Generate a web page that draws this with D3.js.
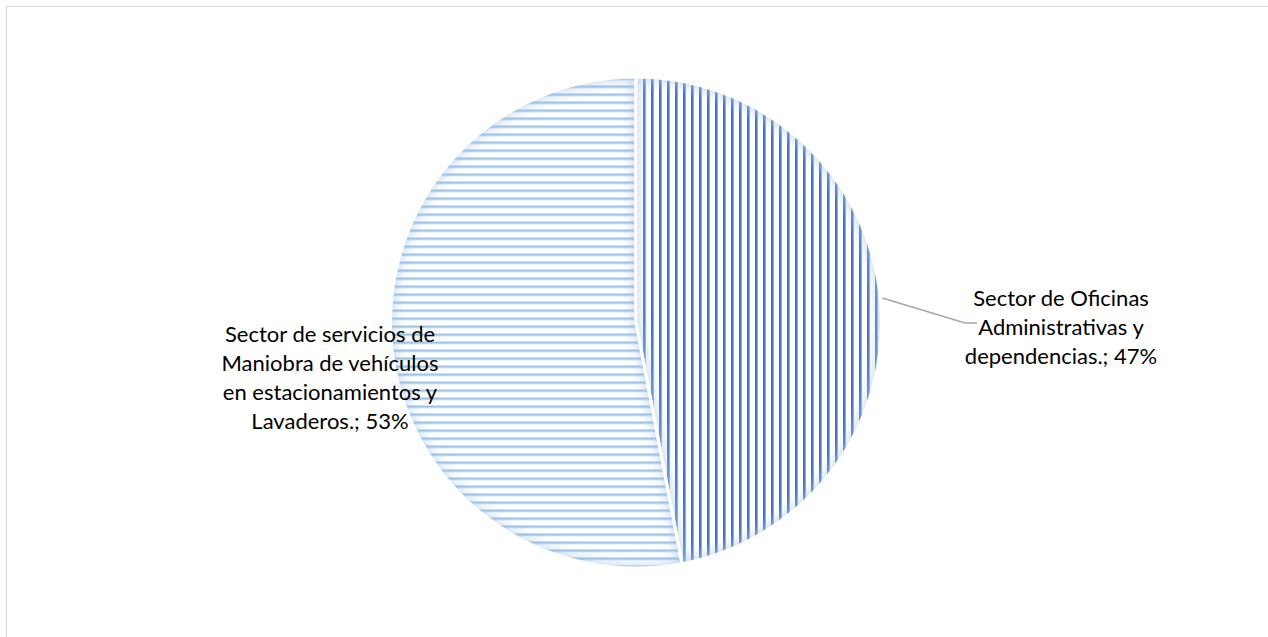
<!DOCTYPE html>
<html><head><meta charset="utf-8">
<script src="https://cdn.jsdelivr.net/npm/d3@7"></script>
<style>html,body{margin:0;padding:0;background:#fff;overflow:hidden}</style>
</head><body>
<svg id="chart" width="1268" height="637"></svg>
<script>
const categories = [
  "Sector de Oficinas Administrativas y dependencias.",
  "Sector de servicios de Maniobra de vehículos en estacionamientos y Lavaderos."
];
const values = [47, 53];
const labelLines = [
  ["Sector de Oficinas", "Administrativas y", "dependencias.; 47%"],
  ["Sector de servicios de", "Maniobra de vehículos", "en estacionamientos y", "Lavaderos.; 53%"]
];

const svg = d3.select("#chart");
svg.append("rect").attr("x", 6.5).attr("y", 6.5).attr("width", 1262).attr("height", 640)
  .attr("fill", "#fff").attr("stroke", "#D9D9D9").attr("stroke-width", 1);

const defs = svg.append("defs");
const pv = defs.append("pattern").attr("id", "pv").attr("patternUnits", "userSpaceOnUse")
  .attr("width", 8).attr("height", 8).attr("x", 663);
pv.append("rect").attr("width", 8).attr("height", 8).attr("fill", "#fff");
pv.append("rect").attr("x", 0).attr("width", 2.6).attr("height", 8).attr("fill", "#4472C4");
const ph = defs.append("pattern").attr("id", "ph").attr("patternUnits", "userSpaceOnUse")
  .attr("width", 8).attr("height", 8).attr("y", 3);
ph.append("rect").attr("width", 8).attr("height", 8).attr("fill", "#fff");
ph.append("rect").attr("y", 0).attr("width", 8).attr("height", 2.4).attr("fill", "#9DC3E6");

[0, 1].forEach(i => {
  const f = defs.append("filter").attr("id", "inner" + i)
    .attr("x", "-10%").attr("y", "-10%").attr("width", "120%").attr("height", "120%");
  f.append("feFlood").attr("flood-color", "#9DC3E6").attr("flood-opacity", 1).attr("result", "c");
  f.append("feComposite").attr("in", "c").attr("in2", "SourceAlpha").attr("operator", "out").attr("result", "inv");
  f.append("feGaussianBlur").attr("in", "inv").attr("stdDeviation", 8).attr("result", "blur");
  f.append("feComposite").attr("in", "blur").attr("in2", "SourceAlpha").attr("operator", "in").attr("result", "sh");
  const m = f.append("feMerge");
  m.append("feMergeNode").attr("in", "SourceGraphic");
  m.append("feMergeNode").attr("in", "sh");
});

const cx = 636, cy = 322.5, r = 245.5;
const pie = d3.pie().sort(null).value(d => d)(values);
const arc = d3.arc().innerRadius(0).outerRadius(r);
const g = svg.append("g").attr("transform", `translate(${cx},${cy})`);
const fills = ["url(#pv)", "url(#ph)"];
g.selectAll("path.slice").data(pie).join("path")
  .attr("class", "slice")
  .attr("d", arc)
  .attr("fill", (d, i) => fills[i])
  .attr("filter", (d, i) => `url(#inner${i})`);
g.selectAll("path.edge").data(pie).join("path")
  .attr("class", "edge")
  .attr("d", arc)
  .attr("fill", "none")
  .attr("stroke", "#fff").attr("stroke-width", 3).attr("stroke-linejoin", "round");

const font = "Lato, 'Noto Sans', sans-serif";
const fs = 22, lh = 29;
const labelPos = [[1061, 298], [330, 334]];
labelLines.forEach((lines, i) => {
  const t = svg.append("text").attr("text-anchor", "middle")
    .attr("font-family", font).attr("font-size", fs).attr("fill", "#000");
  lines.forEach((ln, j) => {
    t.append("tspan").attr("x", labelPos[i][0]).attr("y", labelPos[i][1] + j * lh)
      .attr("dy", "0.35em").text(ln);
  });
});

const mid = (pie[0].startAngle + pie[0].endAngle) / 2;
const x0 = cx + (r + 2) * Math.sin(mid);
svg.append("polyline")
  .attr("points", [[x0, 298], [965, 323], [977, 323]].map(p => p.join(",")).join(" "))
  .attr("fill", "none").attr("stroke", "#A6A6A6").attr("stroke-width", 1.5);
</script>
</body></html>
